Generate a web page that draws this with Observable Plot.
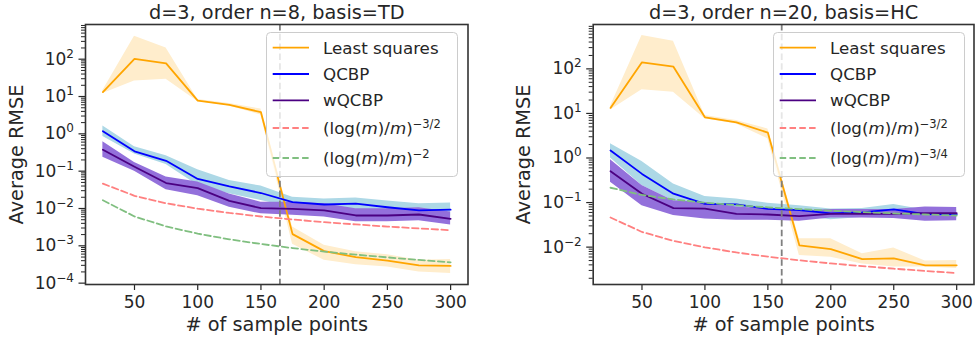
<!DOCTYPE html>
<html>
<head>
<meta charset="utf-8">
<script src="https://cdn.jsdelivr.net/npm/d3@7"></script>
<script src="https://cdn.jsdelivr.net/npm/@observablehq/plot@0.6"></script>
<style>
  html, body { margin: 0; padding: 0; background: #fff; }
  #wrap { position: relative; width: 975px; height: 341px; font-family: "DejaVu Sans", sans-serif; color: #262626; }
  .panel { position: absolute; top: 0; }
  .panel svg { display: block; overflow: visible; max-width: none; }
</style>
</head>
<body>
<div id="wrap"></div>
<script>
// ---------- data ----------
const sampleSizes = [25, 50, 75, 100, 125, 150, 175, 200, 225, 250, 275, 300];
const xTicks = [50, 100, 150, 200, 250, 300];

// Left panel: d=3, order n=8, basis=TD
const tdTitle = "d=3, order n=8, basis=TD";
const tdLS     = [13.2, 102, 77, 7.8, 6.0, 3.8, 0.00206, 0.00072, 0.0005, 0.0004, 0.0003, 0.00029];
const tdLSLow  = [12.0, 26, 29, 7.3, 5.6, 3.2, 0.0011, 0.00041, 0.00031, 0.00027, 0.0002, 0.00018];
const tdLSHigh = [14.5, 410, 200, 8.3, 6.5, 4.6, 0.0032, 0.00103, 0.00069, 0.00058, 0.00041, 0.00043];
const tdQCBP     = [1.18, 0.34, 0.19, 0.062, 0.039, 0.026, 0.0148, 0.0128, 0.0135, 0.0108, 0.0089, 0.0093];
const tdQCBPLow  = [0.85, 0.29, 0.15, 0.042, 0.025, 0.0165, 0.0107, 0.0093, 0.0095, 0.0077, 0.0065, 0.0062];
const tdQCBPHigh = [1.63, 0.45, 0.26, 0.11, 0.056, 0.04, 0.02, 0.018, 0.019, 0.016, 0.0134, 0.014];
const tdWQCBP     = [0.374, 0.132, 0.048, 0.035, 0.016, 0.0102, 0.0098, 0.0089, 0.0065, 0.0065, 0.0069, 0.0053];
const tdWQCBPLow  = [0.235, 0.10, 0.032, 0.022, 0.0108, 0.0072, 0.0066, 0.0059, 0.0044, 0.0044, 0.0047, 0.0036];
const tdWQCBPHigh = [0.61, 0.17, 0.07, 0.051, 0.0245, 0.0147, 0.0146, 0.0135, 0.0098, 0.0098, 0.0105, 0.0081];
const tdRate32 = [0.0462, 0.0219, 0.0138, 0.00988, 0.00759, 0.00611, 0.00507, 0.00431, 0.00374, 0.00328, 0.00292, 0.00262];
const tdRate2  = [0.0166, 0.00612, 0.00331, 0.00212, 0.00149, 0.00112, 0.00087, 0.0007, 0.00058, 0.00049, 0.00042, 0.00036];
const tdCutoff = 165;
const tdYTicks = [1e-4, 1e-3, 1e-2, 1e-1, 1, 10, 100];

// Right panel: d=3, order n=20, basis=HC
const hcTitle = "d=3, order n=20, basis=HC";
const hcLS     = [13.3, 140, 112, 8.2, 6.3, 3.7, 0.011, 0.009, 0.0054, 0.0056, 0.0039, 0.0039];
const hcLSLow  = [12.0, 34, 30, 7.6, 5.8, 2.7, 0.0065, 0.0059, 0.0042, 0.0036, 0.0036, 0.0033];
const hcLSHigh = [14.5, 560, 417, 9.0, 6.9, 4.5, 0.0155, 0.0155, 0.0071, 0.0095, 0.0049, 0.005];
const hcQCBP     = [1.47, 0.44, 0.158, 0.093, 0.091, 0.072, 0.068, 0.057, 0.06, 0.07, 0.055, 0.055];
const hcQCBPLow  = [1.0, 0.24, 0.11, 0.079, 0.077, 0.055, 0.05, 0.041, 0.046, 0.056, 0.045, 0.043];
const hcQCBPHigh = [2.08, 0.83, 0.26, 0.137, 0.12, 0.097, 0.085, 0.072, 0.074, 0.09, 0.068, 0.068];
const hcWQCBP     = [0.506, 0.158, 0.075, 0.073, 0.056, 0.054, 0.0495, 0.056, 0.056, 0.056, 0.058, 0.058];
const hcWQCBPLow  = [0.285, 0.085, 0.051, 0.043, 0.04, 0.04, 0.038, 0.045, 0.045, 0.044, 0.038, 0.039];
const hcWQCBPHigh = [0.91, 0.24, 0.11, 0.10, 0.08, 0.072, 0.065, 0.07, 0.07, 0.07, 0.08, 0.077];
const hcRate32 = [0.0462, 0.0219, 0.0138, 0.00988, 0.00759, 0.00611, 0.00507, 0.00431, 0.00374, 0.00328, 0.00292, 0.00262];
const hcRate34 = [0.215, 0.148, 0.1175, 0.0994, 0.0871, 0.0781, 0.0712, 0.0657, 0.0611, 0.0573, 0.054, 0.0512];
const hcCutoff = 161;
const hcYTicks = [1e-2, 1e-1, 1, 10, 100];

const legendLabels = ["Least squares", "QCBP", "wQCBP"];

// ---------- styles ----------
const C = {
  ls: "#FFA500", lsBand: "#FFEDCC",
  q: "#0000FF", qBand: "#ADD8E6",
  w: "#4B0082", wBand: "#9370DB",
  red: "rgb(255,128,128)", green: "rgb(128,191,128)",
  vline: "#808080", text: "#262626", frame: "#333333"
};
const DASH = "6.5,3.3";

function minorTicks(domain) {
  const out = [];
  for (let k = -6; k <= 3; k++) for (let j = 2; j <= 9; j++) {
    const v = j * Math.pow(10, k);
    if (v >= domain[0] && v <= domain[1]) out.push(v);
  }
  return out;
}

function fmtExp(d) {
  const e = Math.round(Math.log10(d));
  return "10^" + String(e).replace("-", "\u2212");
}

function panel(cfg) {
  const rows = sampleSizes.map((m, i) => ({
    m,
    ls: cfg.ls[i], lsLo: cfg.lsLo[i], lsHi: cfg.lsHi[i],
    q: cfg.q[i], qLo: cfg.qLo[i], qHi: cfg.qHi[i],
    w: cfg.w[i], wLo: cfg.wLo[i], wHi: cfg.wHi[i],
    r1: cfg.r1[i], r2: cfg.r2[i]
  }));
  const svg = Plot.plot({
    width: cfg.width, height: 341,
    marginLeft: cfg.marginLeft, marginRight: cfg.marginRight,
    marginTop: 24, marginBottom: 57,
    style: { fontFamily: "DejaVu Sans", fontSize: "17px", color: C.text, background: "white", overflow: "visible" },
    x: { domain: [11.25, 313.75] },
    y: { type: "log", domain: cfg.yDomain },
    marks: [
      Plot.areaY(rows, { x: "m", y1: "lsLo", y2: "lsHi", fill: C.lsBand }),
      Plot.areaY(rows, { x: "m", y1: "qLo", y2: "qHi", fill: C.qBand }),
      Plot.areaY(rows, { x: "m", y1: "wLo", y2: "wHi", fill: C.wBand }),
      Plot.lineY(rows, { x: "m", y: "ls", stroke: C.ls, strokeWidth: 1.8 }),
      Plot.lineY(rows, { x: "m", y: "q", stroke: C.q, strokeWidth: 1.8 }),
      Plot.lineY(rows, { x: "m", y: "w", stroke: C.w, strokeWidth: 1.8 }),
      Plot.lineY(rows, { x: "m", y: "r1", stroke: C.red, strokeWidth: 1.8, strokeDasharray: DASH }),
      Plot.lineY(rows, { x: "m", y: "r2", stroke: C.green, strokeWidth: 1.8, strokeDasharray: DASH }),
      Plot.ruleX([cfg.cutoff], { stroke: C.vline, strokeWidth: 1.8, strokeDasharray: DASH }),
      Plot.axisY({ ticks: minorTicks(cfg.yDomain), tickSize: 4, tickFormat: () => "", label: null, strokeWidth: 1 }),
      Plot.axisY({ ticks: cfg.yTicks, tickSize: 6.5, tickPadding: 5, tickFormat: fmtExp, label: null, strokeWidth: 1.2 }),
      Plot.axisX({ ticks: xTicks, tickSize: 6, tickPadding: 5, label: null, strokeWidth: 1.2 }),
      Plot.frame({ stroke: C.frame, strokeWidth: 1.6 }),
      Plot.text([cfg.title], { text: d => d, frameAnchor: "top", lineAnchor: "middle", textAnchor: "middle", dy: -11.7, fontSize: 19.3, fill: C.text }),
      Plot.text(["# of sample points"], { text: d => d, frameAnchor: "bottom", lineAnchor: "middle", textAnchor: "middle", dy: 40, fontSize: 19.3, fill: C.text }),
      Plot.text(["Average RMSE"], { text: d => d, frameAnchor: "left", lineAnchor: "middle", textAnchor: "middle", dx: -69, rotate: -90, fontSize: 19.3, fill: C.text })
    ]
  });
  // superscript exponents for log tick labels
  svg.querySelectorAll('g[aria-label="y-axis tick label"] text').forEach(t => {
    const s = t.textContent;
    if (!s.includes("^")) return;
    const e = s.split("^")[1];
    t.textContent = "10";
    const ts = document.createElementNS("http://www.w3.org/2000/svg", "tspan");
    ts.setAttribute("dy", "-7");
    ts.setAttribute("font-size", "12");
    ts.textContent = e;
    t.appendChild(ts);
  });
  const div = document.createElement("div");
  div.className = "panel";
  div.style.left = cfg.left + "px";
  div.style.width = cfg.width + "px";
  div.appendChild(svg);
  document.getElementById("wrap").appendChild(div);
}

function legend(cfg) {
  const W = 192, H = 145;
  const rowY = [15.7, 42, 68.3, 96, 126];
  const svg = d3.select("#wrap").append("svg")
    .style("position", "absolute").style("left", cfg.left + "px").style("top", cfg.top + "px")
    .style("overflow", "visible")
    .attr("width", W).attr("height", H)
    .attr("font-family", "DejaVu Sans").attr("font-size", 16.7).attr("fill", C.text);
  svg.append("rect").attr("x", 0.5).attr("y", 0.5).attr("width", W - 1).attr("height", H - 1)
    .attr("rx", 4).attr("fill", "white").attr("fill-opacity", 0.8).attr("stroke", "#cccccc").attr("stroke-width", 1);
  const entries = [
    { stroke: C.ls, dash: null, label: legendLabels[0] },
    { stroke: C.q, dash: null, label: legendLabels[1] },
    { stroke: C.w, dash: null, label: legendLabels[2] },
    { stroke: C.red, dash: DASH, exp: "\u22123/2" },
    { stroke: C.green, dash: DASH, exp: cfg.greenExp }
  ];
  entries.forEach((e, i) => {
    const cy = rowY[i];
    svg.append("line").attr("x1", 6.7).attr("x2", 43).attr("y1", cy).attr("y2", cy)
      .attr("stroke", e.stroke).attr("stroke-width", 1.8).attr("stroke-dasharray", e.dash);
    const t = svg.append("text").attr("x", 57).attr("y", cy + 6);
    if (e.label) { t.text(e.label); return; }
    t.append("tspan").text("(log(");
    t.append("tspan").attr("font-style", "italic").text("m");
    t.append("tspan").text(")/");
    t.append("tspan").attr("font-style", "italic").text("m");
    t.append("tspan").text(")");
    t.append("tspan").attr("font-size", 11.5).attr("dy", -6.5).text(e.exp);
  });
}

panel({
  left: 0, width: 490, marginLeft: 85, marginRight: 22.5,
  title: tdTitle, yDomain: [9.2e-5, 850], yTicks: tdYTicks, cutoff: tdCutoff,
  ls: tdLS, lsLo: tdLSLow, lsHi: tdLSHigh,
  q: tdQCBP, qLo: tdQCBPLow, qHi: tdQCBPHigh,
  w: tdWQCBP, wLo: tdWQCBPLow, wHi: tdWQCBPHigh,
  r1: tdRate32, r2: tdRate2
});
panel({
  left: 490, width: 485, marginLeft: 102.7, marginRight: 1.5,
  title: hcTitle, yDomain: [0.00145, 990], yTicks: hcYTicks, cutoff: hcCutoff,
  ls: hcLS, lsLo: hcLSLow, lsHi: hcLSHigh,
  q: hcQCBP, qLo: hcQCBPLow, qHi: hcQCBPHigh,
  w: hcWQCBP, wLo: hcWQCBPLow, wHi: hcWQCBPHigh,
  r1: hcRate32, r2: hcRate34
});
legend({ left: 266, top: 32, greenExp: "\u22122" });
legend({ left: 773, top: 32, greenExp: "\u22123/4" });
</script>
</body>
</html>
